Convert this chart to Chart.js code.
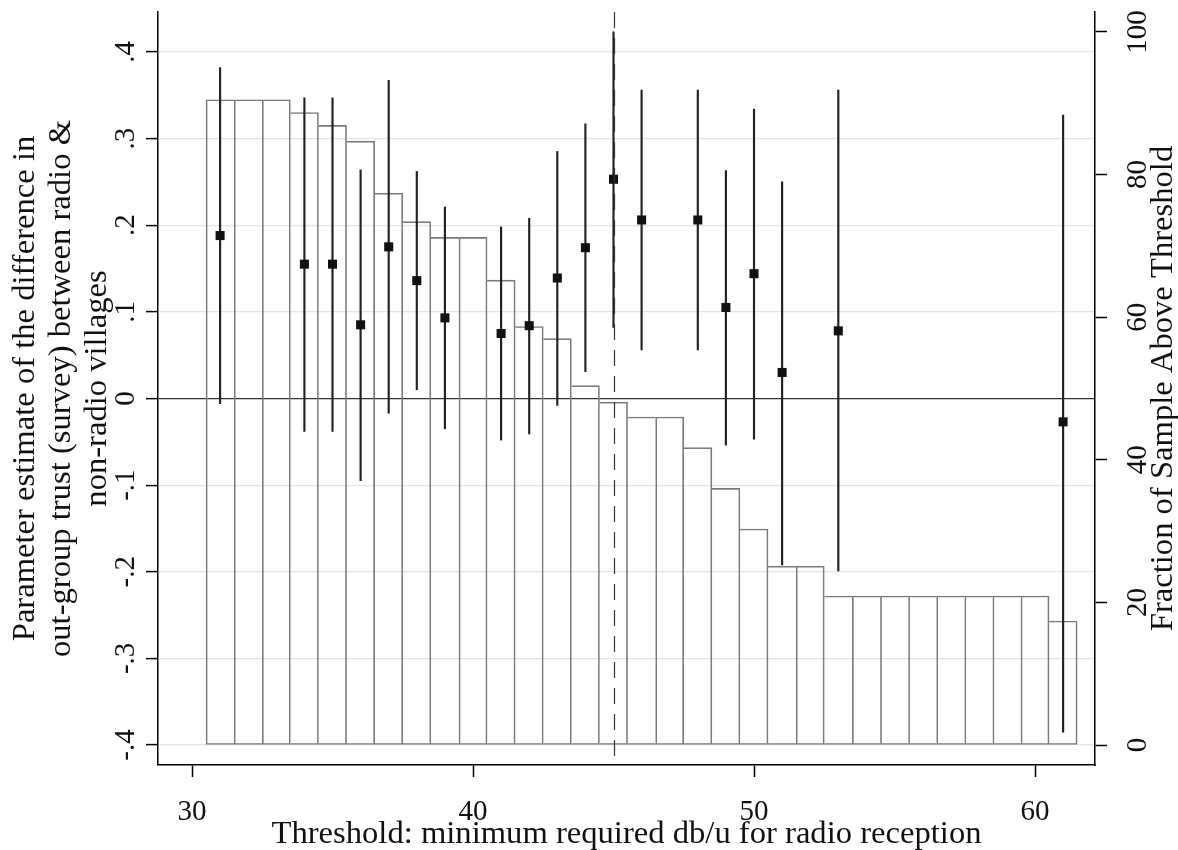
<!DOCTYPE html>
<html><head><meta charset="utf-8">
<script src="https://cdn.jsdelivr.net/npm/chart.js@4.4.0/dist/chart.umd.min.js"></script>
<style>html,body{margin:0;padding:0;background:#fff}#wrap{width:1178px;height:850px;position:relative}canvas{display:block}</style>
</head><body><div id="wrap"><canvas id="c" width="1178" height="850"></canvas></div>
<script>
// ---- data ----
const thresholds = [31,32,33,34,35,36,37,38,39,40,41,42,43,44,45,46,47,48,49,50,51,52,53,54,55,56,57,58,59,60,61];
const fractionAbove = [90.5,90.5,90.5,88.7,86.9,84.7,77.4,73.4,71.2,71.2,65.2,58.7,57.0,50.4,48.1,46.0,46.0,41.7,36.0,30.3,25.1,25.1,20.9,20.9,20.9,20.9,20.9,20.9,20.9,20.9,17.4];
const estX     = [31,34,35,36,37,38,39,41,42,43,44,45,46,48,49,50,51,53,61];
const estimate = [0.188,0.155,0.155,0.085,0.175,0.136,0.093,0.075,0.084,0.139,0.174,0.253,0.206,0.206,0.105,0.144,0.030,0.078,-0.027];
const ciLow    = [-0.006,-0.038,-0.038,-0.095,-0.017,0.010,-0.035,-0.048,-0.041,-0.008,0.031,0.082,0.056,0.056,-0.054,-0.047,-0.192,-0.199,-0.385];
const ciHigh   = [0.382,0.347,0.347,0.264,0.367,0.262,0.221,0.198,0.208,0.285,0.317,0.423,0.356,0.356,0.263,0.334,0.250,0.356,0.327];
const cutoff = [45];
const xTicks = [30,40,50,60];
const yLeftTicks = [-0.4,-0.3,-0.2,-0.1,0,0.1,0.2,0.3,0.4];
const yLeftLabels = ['-.4','-.3','-.2','-.1','0','.1','.2','.3','.4'];
const yRightTicks = [0,20,40,60,80,100];
const xTitle = 'Threshold: minimum required db/u for radio reception';
const yLeftTitle = ['Parameter estimate of the difference in','out-group trust (survey) between radio &','non-radio villages'];
const yRightTitle = 'Fraction of Sample Above Threshold';

const FONT = '"Liberation Serif", "DejaVu Serif", serif';

function build(){
  const cv = document.getElementById('c');
  const ctx = cv.getContext('2d');
  ctx.font = '100px ' + FONT;
  const titleSize = 100 * 710 / ctx.measureText(xTitle).width;
  const tickSize = 29;

  const overlay = {
    id: 'overlay',
    afterDatasetsDraw(chart){
      const c = chart.ctx, a = chart.chartArea, xs = chart.scales.x;
      c.save();
      c.strokeStyle = '#333'; c.lineWidth = 1.2; c.setLineDash([16,10]);
      cutoff.forEach(v => {
        const px = Math.round(xs.getPixelForValue(v)) + 0.5;
        c.beginPath(); c.moveTo(px, a.top); c.lineTo(px, a.bottom); c.stroke();
      });
      c.restore();
    },
    afterDraw(chart){
      const c = chart.ctx, a = chart.chartArea;
      const xs = chart.scales.x, yl = chart.scales.y, yr = chart.scales.yR;
      c.save();
      c.fillStyle = '#111';
      c.font = tickSize + 'px ' + FONT;
      c.textAlign = 'center'; c.textBaseline = 'alphabetic';
      xs.ticks.forEach(t => c.fillText(String(t.value), xs.getPixelForValue(t.value), 820));
      c.font = titleSize + 'px ' + FONT;
      c.fillText(xTitle, (a.left + a.right) / 2, 843);
      c.font = tickSize + 'px ' + FONT;
      yl.ticks.forEach(t => {
        c.save(); c.translate(134, yl.getPixelForValue(t.value)); c.rotate(-Math.PI/2);
        c.fillText(yLeftLabels[yLeftTicks.indexOf(t.value)], 0, 0); c.restore();
      });
      yr.ticks.forEach(t => {
        c.save(); c.translate(1146, yr.getPixelForValue(t.value)); c.rotate(-Math.PI/2);
        c.fillText(String(t.value), 0, 0); c.restore();
      });
      c.font = titleSize + 'px ' + FONT;
      const cy = (a.top + a.bottom) / 2;
      const bases = [34, 70, 106];
      yLeftTitle.forEach((s, i) => {
        c.save(); c.translate(bases[i], cy); c.rotate(-Math.PI/2); c.fillText(s, 0, 0); c.restore();
      });
      c.save(); c.translate(1172, cy); c.rotate(-Math.PI/2); c.fillText(yRightTitle, 0, 0); c.restore();
      c.restore();
    }
  };

  // share one outline between neighbouring histogram bars
  const barBorder = (context) => {
    const i = context.dataIndex, v = fractionAbove;
    const n = v.length;
    return {
      top: 1, bottom: 1,
      left: (i === 0 || v[i] >= v[i-1]) ? 1 : 0,
      right: (i === n-1 || v[i] > v[i+1]) ? 1 : 0
    };
  };

  new Chart(cv, {
    data: {
      datasets: [
        { type: 'bar', label: 'Fraction of sample above threshold',
          data: thresholds.map((t, i) => ({x: t, y: fractionAbove[i]})),
          xAxisID: 'x', yAxisID: 'yR',
          backgroundColor: 'rgba(255,255,255,0)', borderColor: '#7a7a7a', borderWidth: barBorder,
          borderSkipped: false, barPercentage: 1, categoryPercentage: 1, grouped: false, order: 3 },
        { type: 'bar', label: 'Confidence interval',
          data: estX.map((t, i) => ({x: t, y: [ciLow[i], ciHigh[i]]})),
          xAxisID: 'x', yAxisID: 'y',
          backgroundColor: '#222', borderWidth: 0, barThickness: 1.5, grouped: false, order: 2 },
        { type: 'scatter', label: 'Estimate',
          data: estX.map((t, i) => ({x: t, y: estimate[i]})),
          xAxisID: 'x', yAxisID: 'y',
          pointStyle: 'rect', pointRadius: 6.4, backgroundColor: '#111', borderColor: '#111', borderWidth: 0, order: 1 }
      ]
    },
    options: {
      responsive: false, animation: false, devicePixelRatio: 1,
      layout: { padding: { top: 12, left: 0, right: 0, bottom: 0 } },
      plugins: { legend: { display: false }, tooltip: { enabled: false } },
      scales: {
        x: { type: 'linear', position: 'bottom', min: 28.79, max: 62.135, offset: false,
             afterBuildTicks: s => { s.ticks = xTicks.map(v => ({value: v})); },
             afterFit: s => { s.height = 85; },
             grid: { offset: false, drawOnChartArea: false, tickLength: 12, tickColor: '#000', tickWidth: 1.5 },
             border: { display: true, color: '#000', width: 1.5 },
             ticks: { display: false } },
        y: { type: 'linear', position: 'left', min: -0.423, max: 0.446,
             afterBuildTicks: s => { s.ticks = yLeftTicks.map(v => ({value: v})); },
             afterFit: s => { s.width = 158; },
             grid: { color: c => (c.tick && c.tick.value === 0) ? '#333' : '#e4e4e4',
                     lineWidth: c => (c.tick && c.tick.value === 0) ? 1.3 : 1.2,
                     tickLength: 12, tickColor: '#000', tickWidth: 1.5 },
             border: { display: true, color: '#000', width: 1.5 },
             ticks: { display: false } },
        yR: { type: 'linear', position: 'right', min: -2.8, max: 102.8,
             afterBuildTicks: s => { s.ticks = yRightTicks.map(v => ({value: v})); },
             afterFit: s => { s.width = 83; },
             grid: { drawOnChartArea: false, tickLength: 12, tickColor: '#000', tickWidth: 1.5 },
             border: { display: true, color: '#000', width: 1.5 },
             ticks: { display: false } }
      }
    },
    plugins: [overlay]
  });
}
if (document.fonts && document.fonts.load) {
  document.fonts.load('30px "Liberation Serif"').then(build, build);
} else build();
</script>
</body></html>
